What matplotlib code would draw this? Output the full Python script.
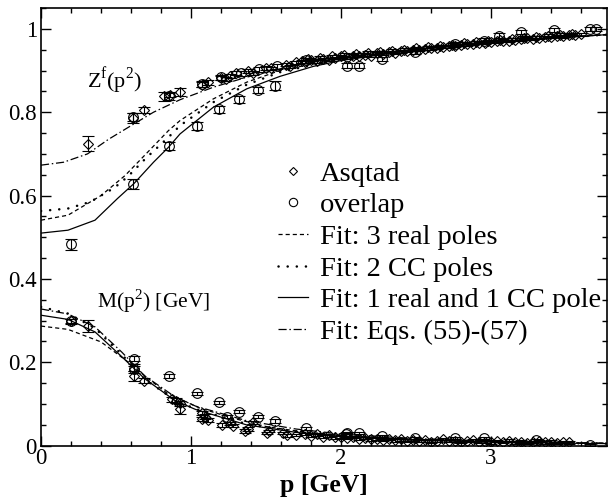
import matplotlib
matplotlib.use("Agg")
import matplotlib.pyplot as plt
from matplotlib.ticker import MultipleLocator
from matplotlib.lines import Line2D

plt.rcParams['font.family'] = ['Liberation Serif', 'DejaVu Serif']
plt.rcParams['mathtext.fontset'] = 'custom'
plt.rcParams['mathtext.rm'] = 'Liberation Serif'

# ---- Z^f data, Asqtad (diamonds) ----
z_asq_x = [0.311, 0.615, 0.689, 0.82, 0.86, 0.927, 1.07, 1.115, 1.20, 1.23, 1.26, 1.30, 1.38, 1.41,
           1.50, 1.53, 1.63, 1.66, 1.70, 1.74,
           1.76, 1.80, 1.84, 1.88, 1.92, 1.96, 2.00, 2.04, 2.08, 2.12, 2.16, 2.20, 2.24, 2.28, 2.32,
           2.36, 2.40, 2.44, 2.48, 2.52, 2.56, 2.60, 2.64, 2.68, 2.72, 2.76, 2.80, 2.84, 2.88, 2.92,
           2.96, 3.00, 3.04, 3.08, 3.12, 3.16, 3.20, 3.24, 3.28, 3.32, 3.36, 3.40, 3.44, 3.48, 3.52,
           3.56, 3.60,
           1.78, 1.86, 1.94, 2.02, 2.10, 2.18, 2.26, 2.34, 2.42, 2.50, 2.58, 2.66, 2.74, 2.82, 2.90,
           2.98, 3.06, 3.14, 3.22, 3.30, 3.38, 3.46, 3.54]
z_asq_y = [0.724, 0.785, 0.805, 0.838, 0.842, 0.848, 0.866, 0.872, 0.882, 0.880, 0.886, 0.895, 0.898, 0.894,
           0.907, 0.905, 0.914, 0.910, 0.920, 0.922,
           0.920, 0.925, 0.922, 0.928, 0.926, 0.930, 0.934, 0.930, 0.936, 0.935, 0.938, 0.936, 0.941, 0.940, 0.944,
           0.943, 0.946, 0.947, 0.950, 0.949, 0.952, 0.953, 0.955, 0.957, 0.958, 0.960, 0.961, 0.963, 0.964, 0.966,
           0.967, 0.968, 0.970, 0.972, 0.971, 0.974, 0.975, 0.977, 0.976, 0.979, 0.980, 0.981, 0.983, 0.982, 0.985,
           0.986, 0.987,
           0.928, 0.931, 0.934, 0.938, 0.940, 0.943, 0.945, 0.948, 0.950, 0.954, 0.957, 0.959, 0.962, 0.966, 0.968,
           0.971, 0.974, 0.976, 0.979, 0.981, 0.984, 0.986, 0.988]
z_asq_err = [0.018, 0.012, 0.008, 0.010, 0.006, 0.010, 0.006, 0.006, 0.005, 0.005, 0.005, 0.005, 0.005, 0.005,
             0.005, 0.004, 0.004, 0.004, 0.004, 0.004] + [0.003] * (len(z_asq_x) - 20)

# ---- Z^f data, overlap (circles) ----
z_ov_x = [0.20, 0.615, 0.615, 0.853, 0.853, 1.04, 1.07, 1.187, 1.20, 1.32, 1.33, 1.444, 1.45, 1.562, 1.57,
          1.767, 2.04, 2.12, 2.27, 2.49, 2.76, 2.95, 3.05, 3.20, 3.42, 3.66, 3.70]
z_ov_y = [0.483, 0.627, 0.788, 0.719, 0.838, 0.767, 0.868, 0.807, 0.884, 0.831, 0.893, 0.853, 0.903, 0.864, 0.910,
          0.925, 0.912, 0.912, 0.928, 0.944, 0.963, 0.972, 0.984, 0.992, 0.998, 1.000, 1.000]
z_ov_err = [0.013, 0.012, 0.010, 0.010, 0.008, 0.009, 0.007, 0.008, 0.006, 0.008, 0.006, 0.007, 0.006, 0.010, 0.006,
            0.006, 0.006, 0.006, 0.005, 0.005, 0.005, 0.005, 0.005, 0.005, 0.005, 0.005, 0.005]

# ---- M data, Asqtad (diamonds) ----
m_asq_x = [0.20, 0.311, 0.622, 0.622, 0.689, 0.876, 0.90, 0.927, 0.927, 1.07, 1.07, 1.09, 1.115, 1.204, 1.26,
           1.28, 1.36, 1.38, 1.416, 1.504, 1.52, 1.615, 1.64, 1.70,
           1.76, 1.80, 1.84, 1.88, 1.92, 1.96, 2.00, 2.04, 2.08, 2.12, 2.16, 2.20, 2.24, 2.28, 2.32, 2.36,
           2.40, 2.44, 2.48, 2.52, 2.56, 2.60, 2.64, 2.68, 2.72, 2.76, 2.80, 2.84, 2.88, 2.92, 2.96, 3.00,
           3.04, 3.08, 3.12, 3.16, 3.20, 3.24, 3.28, 3.32, 3.36, 3.40, 3.44, 3.48, 3.52]
m_asq_y = [0.299, 0.287, 0.185, 0.167, 0.156, 0.112, 0.108, 0.102, 0.087, 0.078, 0.064, 0.070, 0.062, 0.050, 0.054,
           0.048, 0.035, 0.040, 0.056, 0.031, 0.035, 0.031, 0.025, 0.026,
           0.028, 0.024, 0.027, 0.022, 0.025, 0.020, 0.022, 0.018, 0.021, 0.017, 0.019, 0.015, 0.017, 0.014, 0.016, 0.013,
           0.015, 0.012, 0.014, 0.011, 0.013, 0.010, 0.012, 0.016, 0.011, 0.012, 0.009, 0.011, 0.013, 0.009, 0.010, 0.008,
           0.011, 0.009, 0.012, 0.008, 0.010, 0.007, 0.009, 0.011, 0.008, 0.010, 0.007, 0.009, 0.008]
m_asq_err = [0.006, 0.015, 0.010, 0.012, 0.006, 0.006, 0.006, 0.006, 0.012, 0.005, 0.005, 0.005, 0.005, 0.004, 0.004,
             0.004, 0.004, 0.004, 0.004, 0.003, 0.003, 0.003, 0.003, 0.003] + [0.003] * (len(m_asq_x) - 24)

# ---- M data, overlap (circles) ----
m_ov_x = [0.20, 0.622, 0.622, 0.853, 1.038, 1.187, 1.24, 1.32, 1.444, 1.56, 1.767, 2.033, 2.04, 2.12, 2.27,
          2.49, 2.76, 2.95, 3.30, 3.66]
m_ov_y = [0.299, 0.209, 0.185, 0.167, 0.126, 0.104, 0.070, 0.082, 0.070, 0.059, 0.042, 0.027, 0.030, 0.030, 0.023,
          0.018, 0.018, 0.018, 0.014, 0.002]
m_ov_err = [0.005, 0.006, 0.006, 0.004, 0.004, 0.004, 0.004, 0.004, 0.004, 0.004, 0.004, 0.003, 0.003, 0.003, 0.003,
            0.003, 0.003, 0.003, 0.003, 0.003]

# ---- Fit curves ----
zf_dashed_x = [0, 0.18, 0.40, 0.56, 0.70, 0.85, 0.927, 1.149, 1.371, 1.593, 1.816, 2.0, 2.5, 3.0, 3.5, 3.77]
zf_dashed_y = [0.541, 0.553, 0.600, 0.648, 0.700, 0.756, 0.780, 0.832, 0.872, 0.900, 0.916, 0.928, 0.951, 0.967, 0.980, 0.986]
zf_dotted_x = [0, 0.18, 0.33, 0.49, 0.58, 0.70, 0.85, 0.927, 1.149, 1.371, 1.593, 1.816, 2.0, 2.5, 3.0, 3.5, 3.77]
zf_dotted_y = [0.563, 0.569, 0.585, 0.619, 0.646, 0.690, 0.740, 0.768, 0.824, 0.866, 0.896, 0.914, 0.927, 0.951, 0.967, 0.980, 0.986]
zf_solid_x = [0, 0.18, 0.36, 0.51, 0.62, 0.75, 0.85, 0.927, 1.149, 1.371, 1.593, 1.816, 2.0, 2.5, 3.0, 3.5, 3.77]
zf_solid_y = [0.510, 0.517, 0.541, 0.593, 0.629, 0.680, 0.716, 0.748, 0.812, 0.856, 0.886, 0.910, 0.924, 0.950, 0.967, 0.980, 0.986]
zf_dashdot_x = [0, 0.15, 0.31, 0.45, 0.62, 0.75, 0.927, 1.149, 1.371, 1.593, 1.816, 2.0, 2.5, 3.0, 3.5, 3.77]
zf_dashdot_y = [0.673, 0.680, 0.700, 0.735, 0.772, 0.800, 0.830, 0.860, 0.884, 0.904, 0.920, 0.930, 0.952, 0.968, 0.980, 0.986]

m_dashed_x = [0, 0.18, 0.40, 0.58, 0.70, 0.84, 1.06, 1.28, 1.50, 1.73, 2.0, 2.5, 3.0, 3.5, 3.77]
m_dashed_y = [0.287, 0.279, 0.249, 0.201, 0.165, 0.126, 0.090, 0.066, 0.046, 0.034, 0.025, 0.015, 0.010, 0.007, 0.006]
m_dotted_x = [0, 0.18, 0.36, 0.54, 0.69, 0.89, 1.03, 1.37, 1.70, 2.0, 2.5, 3.0, 3.5, 3.77]
m_dotted_y = [0.333, 0.317, 0.282, 0.218, 0.160, 0.110, 0.088, 0.052, 0.033, 0.023, 0.014, 0.009, 0.006, 0.005]
m_solid_x = [0, 0.18, 0.36, 0.54, 0.69, 0.89, 1.03, 1.37, 1.70, 2.0, 2.5, 3.0, 3.5, 3.77]
m_solid_y = [0.313, 0.303, 0.273, 0.213, 0.161, 0.109, 0.087, 0.050, 0.032, 0.022, 0.013, 0.009, 0.006, 0.005]
m_dashdot_x = [0, 0.18, 0.36, 0.54, 0.69, 0.89, 1.03, 1.37, 1.70, 2.0, 2.5, 3.0, 3.5, 3.77]
m_dashdot_y = [0.328, 0.316, 0.285, 0.224, 0.168, 0.118, 0.095, 0.060, 0.040, 0.028, 0.017, 0.011, 0.008, 0.006]

legend_labels = ["Asqtad", "overlap", "Fit: 3 real poles", "Fit: 2 CC poles",
                 "Fit: 1 real and 1 CC pole", "Fit: Eqs. (55)-(57)"]

fig = plt.figure(figsize=(6.08, 4.98), dpi=100)
ax = fig.add_axes([41 / 608, (498 - 445.7) / 498, 566 / 608, 437.7 / 498])

dash_style = (0, (3.3, 2.4))
dot_lw = 1.8
dot_style = (0, (0.05, 3.6))
dashdot_style = (0, (6.5, 2.2, 1.2, 2.2))
lw = 0.9

for x, y, ls in [(zf_dashed_x, zf_dashed_y, dash_style), (zf_dotted_x, zf_dotted_y, dot_style),
                 (zf_solid_x, zf_solid_y, '-'), (zf_dashdot_x, zf_dashdot_y, dashdot_style),
                 (m_dashed_x, m_dashed_y, dash_style), (m_dotted_x, m_dotted_y, dot_style),
                 (m_solid_x, m_solid_y, '-'), (m_dashdot_x, m_dashdot_y, dashdot_style)]:
    if ls is dot_style:
        ax.plot(x, y, color='black', linestyle=ls, linewidth=dot_lw, dash_capstyle='round')
    else:
        ax.plot(x, y, color='black', linestyle=ls, linewidth=lw)

ekw = dict(fmt='none', ecolor='black', elinewidth=0.8, capsize=4, capthick=0.8)
mkw_d = dict(linestyle='none', marker='D', markersize=5, markerfacecolor='none', markeredgecolor='black', markeredgewidth=0.8)
mkw_o = dict(linestyle='none', marker='o', markersize=7, markerfacecolor='none', markeredgecolor='black', markeredgewidth=0.8)

ax.errorbar(z_asq_x, z_asq_y, yerr=z_asq_err, **ekw)
ax.plot(z_asq_x, z_asq_y, **mkw_d)
ax.errorbar(z_ov_x, z_ov_y, yerr=z_ov_err, **ekw)
ax.plot(z_ov_x, z_ov_y, **mkw_o)
ax.errorbar(m_asq_x, m_asq_y, yerr=m_asq_err, **ekw)
ax.plot(m_asq_x, m_asq_y, **mkw_d)
ax.errorbar(m_ov_x, m_ov_y, yerr=m_ov_err, **ekw)
ax.plot(m_ov_x, m_ov_y, **mkw_o)

ax.set_xlim(0, 3.773)
ax.set_ylim(0, 1.05)
ax.xaxis.set_major_locator(MultipleLocator(1))
ax.xaxis.set_minor_locator(MultipleLocator(0.2))
ax.yaxis.set_major_locator(MultipleLocator(0.2))
ax.yaxis.set_minor_locator(MultipleLocator(0.05))
ax.xaxis.set_major_formatter(matplotlib.ticker.FuncFormatter(lambda v, p: f"{v:g}"))
ax.yaxis.set_major_formatter(matplotlib.ticker.FuncFormatter(lambda v, p: f"{v:g}"))
ax.tick_params(which='both', direction='in', top=True, right=True, labelsize=16.5, width=1.0)
ax.tick_params(axis='x', which='major', pad=2)
ax.tick_params(axis='y', which='major', pad=3)
ax.tick_params(which='major', length=7)
ax.tick_params(which='minor', length=3.5)
for s in ax.spines.values():
    s.set_linewidth(1.2)

ax.set_xlabel("p [GeV]", fontsize=18.5, fontweight='bold', labelpad=3.5)

ax.text(0.307, 0.86, r"Z$^{\mathrm{f}}$(p$^{2}$)", fontsize=16, ha='left', va='baseline')
ax.text(0.373, 0.33, r"M(p$^{2}$) [GeV]", fontsize=15.5, ha='left', va='baseline')

handles = [Line2D([], [], **{**mkw_d, 'markersize': 4.5}),
           Line2D([], [], **{**mkw_o, 'markersize': 6}),
           Line2D([], [], color='black', linestyle=dash_style, linewidth=lw),
           Line2D([], [], color='black', linestyle=dot_style, linewidth=dot_lw, dash_capstyle='round'),
           Line2D([], [], color='black', linestyle='-', linewidth=lw),
           Line2D([], [], color='black', linestyle=dashdot_style, linewidth=lw)]
ax.legend(handles, legend_labels, loc='upper left', bbox_to_anchor=(0.419, 0.651), frameon=False,
          fontsize=20.5, handlelength=1.05, handletextpad=0.42, labelspacing=0.2, borderpad=0, borderaxespad=0)

fig.savefig("out.png", dpi=100)
